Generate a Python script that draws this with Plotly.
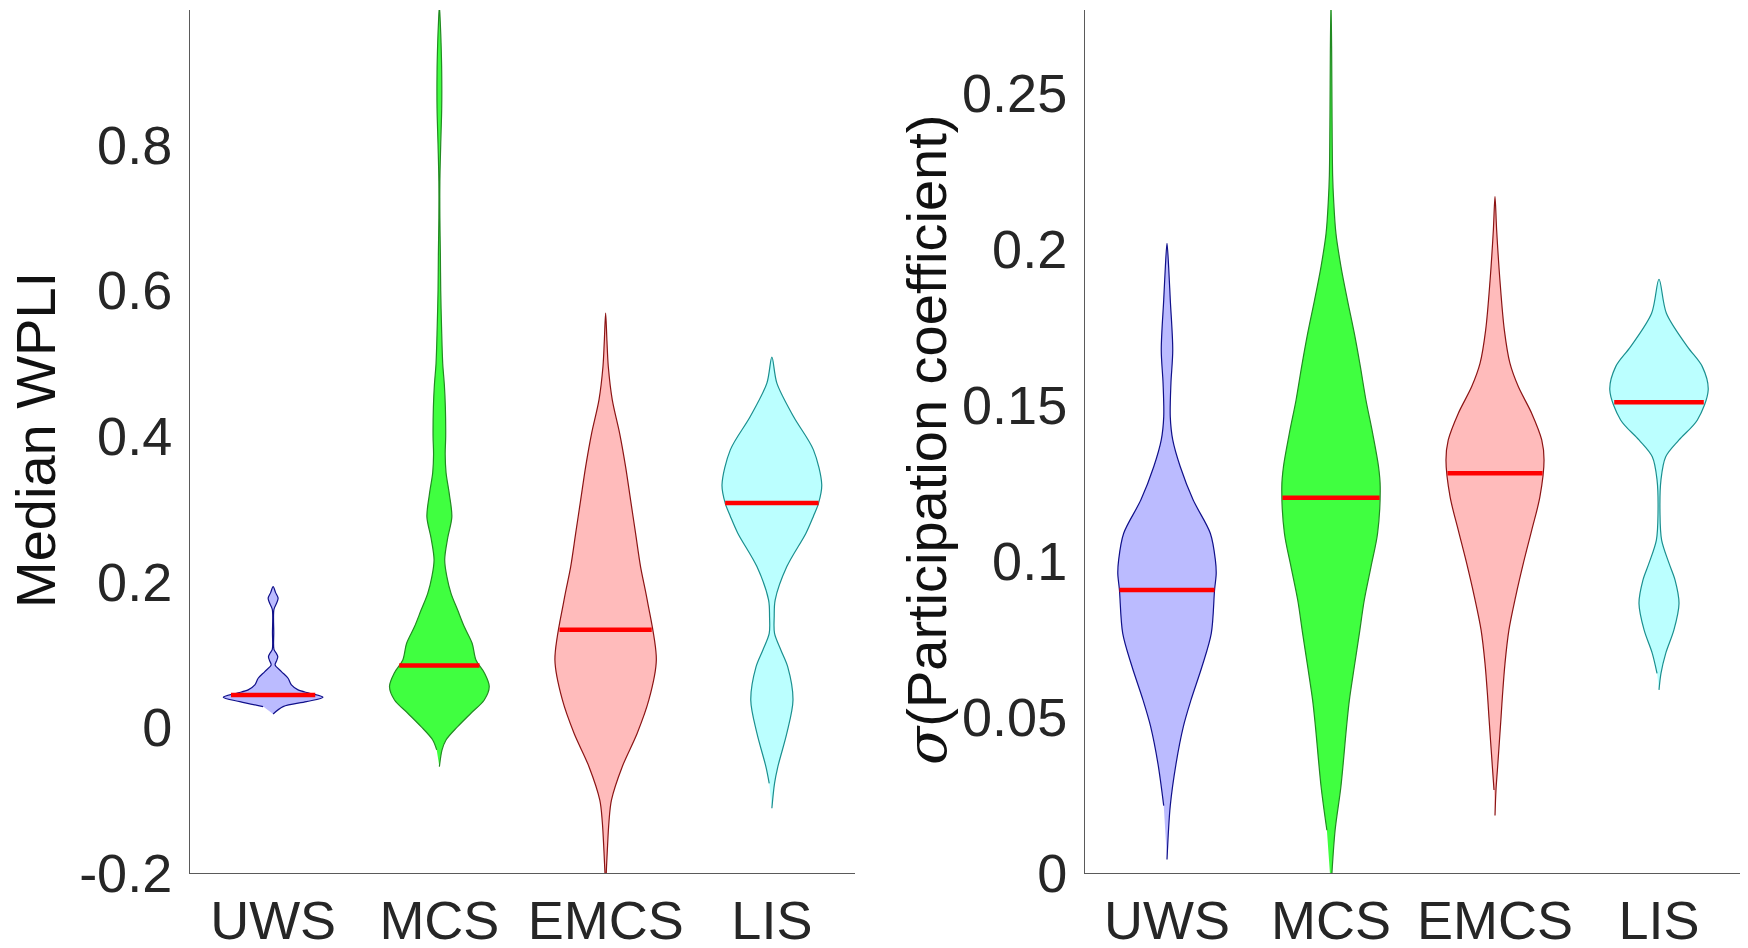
import numpy as np
import plotly.graph_objects as go

# ---------------- data ----------------
groups = ["UWS", "MCS", "EMCS", "LIS"]
fill_colors = ["#bbbbff", "#40ff40", "#ffbbbb", "#bbffff"]
edge_colors = ["#10108a", "#228a22", "#8b1414", "#1a8f8f"]

# Left panel: Median WPLI -- density outline (value, half-width) and medians
wpli_uws_v = [0.0184, 0.0285, 0.0353, 0.0413, 0.0468, 0.0514, 0.0582, 0.0674, 0.0766, 0.0857,
              0.0920, 0.0971, 0.1020, 0.1070, 0.1300, 0.1620, 0.1700, 0.1773, 0.1850, 0.1933]
wpli_uws_w = [0.0, 0.06, 0.20, 0.30, 0.22, 0.15, 0.11, 0.09, 0.05, 0.012,
              0.022, 0.028, 0.018, 0.005, 0.004, 0.005, 0.02, 0.03, 0.015, 0.0]
wpli_mcs_v = [-0.054, -0.031, -0.0173, 0.001, 0.0194, 0.0376, 0.056, 0.075, 0.0925, 0.1155,
              0.138, 0.161, 0.184, 0.207, 0.230, 0.26, 0.289, 0.32, 0.35, 0.375, 0.40, 0.44,
              0.47, 0.50, 0.55, 0.60, 0.65, 0.70, 0.75, 0.80, 0.85, 0.90, 0.94, 0.97, 0.99]
wpli_mcs_w = [0.0, 0.016, 0.04, 0.11, 0.19, 0.27, 0.30, 0.27, 0.22, 0.197,
              0.15, 0.11, 0.07, 0.045, 0.032, 0.05, 0.075, 0.06, 0.04, 0.035, 0.038, 0.036,
              0.03, 0.02, 0.013, 0.008, 0.006, 0.003, 0.003, 0.008, 0.014, 0.014, 0.01, 0.005, 0.0]
wpli_emcs_v = [-0.25, -0.2, -0.17, -0.13, -0.1, -0.054, -0.0081, 0.0376, 0.0926, 0.175,
               0.2207, 0.2666, 0.3124, 0.358, 0.404, 0.4497, 0.4955, 0.53, 0.5688]
wpli_emcs_w = [0.0, 0.004, 0.01, 0.02, 0.035, 0.10, 0.19, 0.26, 0.305, 0.25,
               0.21, 0.18, 0.15, 0.12, 0.084, 0.04, 0.016, 0.008, 0.0]
wpli_lis_v = [-0.111, -0.077, -0.054, -0.008, 0.0376, 0.0834, 0.1063, 0.129, 0.152, 0.175,
              0.2207, 0.2666, 0.29, 0.308, 0.333, 0.381, 0.4268, 0.4727, 0.5084]
wpli_lis_w = [0.0, 0.016, 0.036, 0.09, 0.127, 0.095, 0.054, 0.016, 0.014, 0.02,
              0.09, 0.205, 0.25, 0.281, 0.30, 0.25, 0.13, 0.03, 0.0]
wpli_medians = [0.0445, 0.085, 0.134, 0.308]

# Right panel: sigma(Participation coefficient)
pc_uws_v = [0.0043, 0.0216, 0.035, 0.047, 0.0554, 0.0661, 0.0768, 0.0907, 0.096, 0.1003,
            0.1089, 0.1196, 0.1302, 0.1388, 0.1462, 0.157, 0.1676, 0.1837, 0.1943, 0.2018]
pc_uws_w = [0.0, 0.02, 0.055, 0.10, 0.146, 0.213, 0.27, 0.29, 0.30, 0.295,
            0.264, 0.159, 0.081, 0.035, 0.02, 0.024, 0.035, 0.02, 0.01, 0.0]
pc_mcs_v = [-0.005, 0.0137, 0.0275, 0.047, 0.0554, 0.0661, 0.0768, 0.0875, 0.0982, 0.1089,
            0.1238, 0.1302, 0.1409, 0.1516, 0.1623, 0.173, 0.1837, 0.1943, 0.205, 0.2157,
            0.2235, 0.245, 0.263, 0.28]
pc_mcs_w = [0.0, 0.025, 0.06, 0.095, 0.112, 0.142, 0.173, 0.203, 0.244, 0.284,
            0.30, 0.29, 0.254, 0.213, 0.179, 0.142, 0.10, 0.061, 0.03, 0.016,
            0.01, 0.006, 0.004, 0.0]
pc_emcs_v = [0.0184, 0.0266, 0.034, 0.05, 0.0565, 0.0672, 0.0779, 0.0886, 0.0993, 0.1099,
             0.1206, 0.1324, 0.1388, 0.1473, 0.1559, 0.1634, 0.174, 0.19, 0.2061, 0.2168]
pc_emcs_w = [0.0, 0.006, 0.016, 0.037, 0.045, 0.061, 0.085, 0.126, 0.173, 0.224,
             0.274, 0.299, 0.285, 0.224, 0.142, 0.091, 0.057, 0.03, 0.01, 0.0]
pc_lis_v = [0.0587, 0.064, 0.0704, 0.0779, 0.0864, 0.0939, 0.0993, 0.1067, 0.1153, 0.126,
            0.1334, 0.1388, 0.1452, 0.1548, 0.1623, 0.1687, 0.1794, 0.1903]
pc_lis_w = [0.0, 0.012, 0.041, 0.091, 0.122, 0.098, 0.061, 0.016, 0.006, 0.012,
            0.041, 0.122, 0.234, 0.30, 0.264, 0.173, 0.045, 0.0]
pc_medians = [0.0907, 0.1203, 0.1281, 0.1509]

wpli_profiles = [(wpli_uws_v, wpli_uws_w), (wpli_mcs_v, wpli_mcs_w),
                 (wpli_emcs_v, wpli_emcs_w), (wpli_lis_v, wpli_lis_w)]
pc_profiles = [(pc_uws_v, pc_uws_w), (pc_mcs_v, pc_mcs_w),
               (pc_emcs_v, pc_emcs_w), (pc_lis_v, pc_lis_w)]

wpli_ticks = [-0.2, 0, 0.2, 0.4, 0.6, 0.8]
wpli_ticktext = ["-0.2", "0", "0.2", "0.4", "0.6", "0.8"]
pc_ticks = [0, 0.05, 0.1, 0.15, 0.2, 0.25]
pc_ticktext = ["0", "0.05", "0.1", "0.15", "0.2", "0.25"]

# ---------------- figure ----------------
FONT = "Liberation Sans, Arial, Helvetica, sans-serif"
fig = go.Figure()


def add_panel(profiles, medians, xa, ya):
    for i, (v, w) in enumerate(profiles):
        c = i + 1
        v = np.asarray(v, float)
        w = np.asarray(w, float)
        xs = np.concatenate([c + w, (c - w)[::-1][1:-1]])
        ys = np.concatenate([v, v[::-1][1:-1]])
        fig.add_trace(go.Scatter(
            x=xs, y=ys, mode="lines", fill="toself",
            fillcolor=fill_colors[i],
            line=dict(color=edge_colors[i], width=1.2, shape="spline", smoothing=0.9),
            xaxis=xa, yaxis=ya, hoverinfo="skip", showlegend=False))
    for i, (v, w) in enumerate(profiles):
        c = i + 1
        m = medians[i]
        hw = float(np.interp(m, v, w))
        fig.add_trace(go.Scatter(
            x=[c - hw, c + hw], y=[m, m], mode="lines",
            line=dict(color="#ff0000", width=4.5),
            xaxis=xa, yaxis=ya, hoverinfo="skip", showlegend=False))


add_panel(wpli_profiles, wpli_medians, "x", "y")
add_panel(pc_profiles, pc_medians, "x2", "y2")

# page has an 8px body margin -> figure is drawn 8px lower/right; compensate
OFF = 8
W, H = 1748 - OFF, 948 - OFF


def px(x):
    return (x - OFF) / W


def py(y):
    return 1 - (y - OFF) / H


ydom = [py(873), py(10)]
axis_common = dict(showline=True, linecolor="#5a5a5a", linewidth=1, ticks="",
                   showgrid=False, zeroline=False, automargin=False,
                   tickfont=dict(family=FONT, size=54, color="#262626"))

fig.update_layout(
    width=W, height=H, margin=dict(l=0, r=0, t=0, b=0, autoexpand=False),
    paper_bgcolor="white", plot_bgcolor="white", showlegend=False,
    xaxis=dict(domain=[px(190), px(855)], range=[0.5, 4.5], anchor="y",
               tickvals=[1, 2, 3, 4], ticktext=groups, ticklabelstandoff=0, **axis_common),
    yaxis=dict(domain=ydom, range=[-0.2, 0.985], anchor="x",
               tickvals=wpli_ticks, ticktext=wpli_ticktext, ticklabelstandoff=6, **axis_common),
    xaxis2=dict(domain=[px(1085), px(1741)], range=[0.5, 4.5], anchor="y2",
                tickvals=[1, 2, 3, 4], ticktext=groups, ticklabelstandoff=0, **axis_common),
    yaxis2=dict(domain=ydom, range=[0, 0.2766], anchor="x2",
                tickvals=pc_ticks, ticktext=pc_ticktext, ticklabelstandoff=6, **axis_common),
)

fig.add_annotation(text="Median WPLI", xref="paper", yref="paper",
                   x=px(35), y=py(440), textangle=-90, showarrow=False,
                   xanchor="center", yanchor="middle",
                   font=dict(family=FONT, size=56, color="#111111"))
fig.add_annotation(text="<span style='font-family:DejaVu Serif'><i>σ</i></span>(Participation coefficient)",
                   xref="paper", yref="paper",
                   x=px(926), y=py(440), textangle=-90, showarrow=False,
                   xanchor="center", yanchor="middle",
                   font=dict(family=FONT, size=56, color="#111111"))

fig.write_html("out.html")
